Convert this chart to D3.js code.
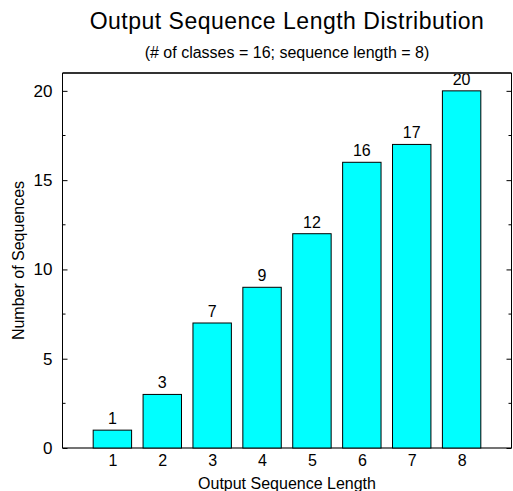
<!DOCTYPE html>
<html>
<head>
<meta charset="utf-8">
<script src="https://cdn.jsdelivr.net/npm/d3@7"></script>
<style>
  body { margin: 0; background: #fff; }
  text { font-family: "Liberation Sans", Arial, sans-serif; fill: #000; }
</style>
</head>
<body>
<div id="chart"></div>
<script>
// data
var lengths = [0, 1, 2, 3, 4, 5, 6, 7, 8];
var counts  = [0, 1, 3, 7, 9, 12, 16, 17, 20];
var labelled = [1, 2, 3, 4, 5, 6, 7, 8];
var yTicks = [0, 5, 10, 15, 20];
var yMinor = [2.5, 7.5, 12.5, 17.5];

var W = 513, H = 491;
var margin = {top: 73, right: 1.5, bottom: 43, left: 62.5},
    width = W - margin.left - margin.right,
    height = H - margin.top - margin.bottom;

var svg = d3.select("#chart").append("svg")
    .attr("width", W)
    .attr("height", H);

var g = svg.append("g")
    .attr("transform", "translate(" + margin.left + "," + margin.top + ")");

// set the ranges
var x = d3.scaleLinear().domain([0, 9]).range([0, width]);
var y = d3.scaleLinear().domain([0, 21]).range([height, 0]);
var barW = x(0.77) - x(0);

// clip so the zero bar at x=0 gets cut by the frame
svg.append("clipPath").attr("id", "plot-clip")
  .append("rect").attr("x", 0).attr("y", -20).attr("width", width).attr("height", height + 21);

// bottom frame line (under the bars)
g.append("line")
    .attr("x1", 0).attr("x2", width)
    .attr("y1", height).attr("y2", height)
    .attr("stroke", "#444").attr("stroke-width", 1.5);

// bars
var data = lengths.map(function(d, i) { return {len: d, n: counts[i]}; });
g.append("g").attr("clip-path", "url(#plot-clip)")
  .selectAll("rect").data(data).enter().append("rect")
    .attr("x", function(d) { return x(d.len) - barW / 2; })
    .attr("y", function(d) { return y(d.n); })
    .attr("width", barW)
    .attr("height", function(d) { return y(0) - y(d.n); })
    .attr("fill", "#00ffff")
    .attr("stroke", "#000")
    .attr("stroke-width", 1);

// value labels
g.selectAll(".val").data(data.filter(function(d) { return d.n > 0; })).enter().append("text")
    .attr("class", "val")
    .attr("x", function(d) { return x(d.len); })
    .attr("y", function(d) { return y(d.n) - 6; })
    .attr("text-anchor", "middle")
    .style("font-size", "16px")
    .text(function(d) { return d.n; });

// frame
g.append("line").attr("x1", 0).attr("x2", width).attr("y1", 0).attr("y2", 0)
    .attr("stroke", "#333").attr("stroke-width", 2);
g.append("line").attr("x1", 0).attr("x2", 0).attr("y1", 0).attr("y2", height)
    .attr("stroke", "#000").attr("stroke-width", 1);
g.append("line").attr("x1", width).attr("x2", width).attr("y1", 0).attr("y2", height)
    .attr("stroke", "#000").attr("stroke-width", 1);

// y axis, ticks pointing in, mirrored on the right
var yAxis = d3.axisLeft(y).tickValues(yTicks).tickSize(-5).tickPadding(10);
var yl = g.append("g").call(yAxis);
yl.select(".domain").remove();
yl.selectAll("text").style("font-size", "17px");

var yr = g.append("g").attr("transform", "translate(" + width + ",0)")
    .call(d3.axisRight(y).tickValues(yTicks).tickSize(-5).tickFormat(""));
yr.select(".domain").remove();

// minor ticks
[[0, 3], [width, -3]].forEach(function(s) {
  g.selectAll(null).data(yMinor).enter().append("line")
      .attr("x1", s[0]).attr("x2", s[0] + s[1])
      .attr("y1", function(d) { return y(d); })
      .attr("y2", function(d) { return y(d); })
      .attr("stroke", "#000");
});

// x axis labels only
var xa = g.append("g").attr("transform", "translate(0," + height + ")")
    .call(d3.axisBottom(x).tickValues(labelled).tickSize(0).tickPadding(7).tickFormat(d3.format("d")));
xa.select(".domain").remove();
xa.selectAll("text").style("font-size", "16px");

// titles
svg.append("text")
    .attr("x", margin.left + width / 2).attr("y", 29)
    .attr("text-anchor", "middle")
    .style("font-size", "23px")
    .style("letter-spacing", "0.5px")
    .text("Output Sequence Length Distribution");

svg.append("text")
    .attr("x", margin.left + width / 2).attr("y", 58)
    .attr("text-anchor", "middle")
    .style("font-size", "16px")
    .text("(# of classes = 16; sequence length = 8)");

svg.append("text")
    .attr("x", margin.left + width / 2).attr("y", 489)
    .attr("text-anchor", "middle")
    .style("font-size", "16px")
    .text("Output Sequence Length");

svg.append("text")
    .attr("transform", "translate(24," + (margin.top + height / 2) + ") rotate(-90)")
    .attr("text-anchor", "middle")
    .style("font-size", "16px")
    .text("Number of Sequences");
</script>
</body>
</html>
